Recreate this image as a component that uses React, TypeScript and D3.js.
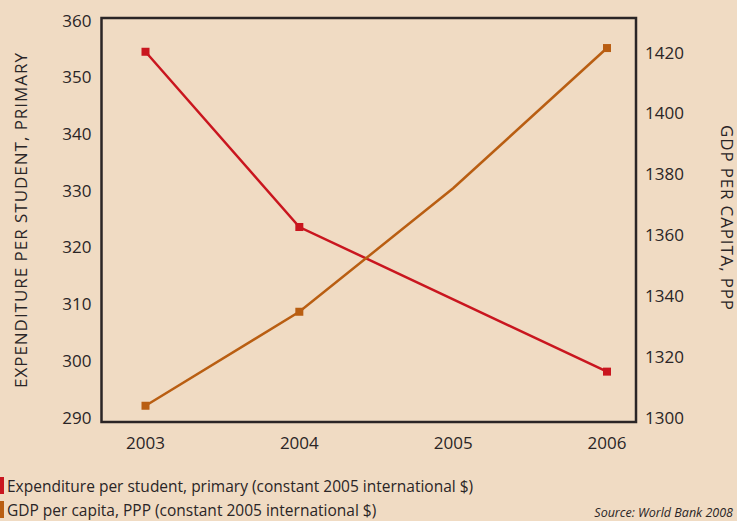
import React from "react";
import * as d3 from "d3";

const years = ["2003", "2004", "2005", "2006"];
const expenditure: (number | null)[] = [354.4, 323.5, null, 298.0];
const gdp: (number | null)[] = [1303.7, 1334.6, 1375.2, 1421.3];
const markerYears = ["2003", "2004", "2006"];
const leftTicks = [290, 300, 310, 320, 330, 340, 350, 360];
const rightTicks = [1300, 1320, 1340, 1360, 1380, 1400, 1420];
const legendLabels = [
  "Expenditure per student, primary (constant 2005 international $)",
  "GDP per capita, PPP (constant 2005 international $)",
];
const leftTitle = "EXPENDITURE PER STUDENT, PRIMARY";
const rightTitle = "GDP PER CAPITA, PPP";
const sourceText = "Source: World Bank 2008";

const W = 737;
const H = 521;
const BG = "#f0dbc3";
const RED = "#c9161f";
const ORANGE = "#b95e12";
const INK = "#2a2526";
const FONT = "'Open Sans', 'DejaVu Sans', sans-serif";

export default function App() {
  const box = { left: 101.5, right: 636, top: 18, bottom: 422 };
  const x = d3.scalePoint<string>().domain(years).range([145.5, 607]);
  const yL = d3.scaleLinear().domain([290, 360]).range([417, 20]);
  const yR = d3.scaleLinear().domain([1300, 1420]).range([417, 52]);

  const mk = (vals: (number | null)[], y: d3.ScaleLinear<number, number>) => {
    const pts = years
      .map((yr, i) => ({ yr, v: vals[i] }))
      .filter((d) => d.v !== null) as { yr: string; v: number }[];
    const line = d3
      .line<{ yr: string; v: number }>()
      .x((d) => x(d.yr)!)
      .y((d) => y(d.v));
    return { path: line(pts)!, pts };
  };
  const red = mk(expenditure, yL);
  const org = mk(gdp, yR);
  const ms = 8;

  return (
    <svg
      width={W}
      height={H}
      style={{ position: "absolute", left: 0, top: 0, background: BG }}
      fontFamily={FONT}
    >
      <rect x={0} y={0} width={W} height={H} fill={BG} />
      <rect
        x={box.left}
        y={box.top}
        width={box.right - box.left}
        height={box.bottom - box.top}
        fill="none"
        stroke={INK}
        strokeWidth={2.5}
      />
      {leftTicks.map((t) => (
        <text key={t} x={91.5} y={yL(t)} textAnchor="end" dominantBaseline="central" fontSize={17} fill={INK}>
          {t}
        </text>
      ))}
      {rightTicks.map((t) => (
        <text key={t} x={645} y={yR(t)} textAnchor="start" dominantBaseline="central" fontSize={17} fill={INK}>
          {t}
        </text>
      ))}
      {years.map((yr) => (
        <text key={yr} x={x(yr)!} y={442} textAnchor="middle" dominantBaseline="central" fontSize={17} fill={INK}>
          {yr}
        </text>
      ))}
      <text
        transform={`translate(20,220.5) rotate(-90)`}
        textAnchor="middle"
        dominantBaseline="central"
        fontSize={17}
        textLength={335}
        lengthAdjust="spacing"
        fill={INK}
      >
        {leftTitle}
      </text>
      <text
        transform={`translate(727,217.5) rotate(90)`}
        textAnchor="middle"
        dominantBaseline="central"
        fontSize={17}
        textLength={185}
        lengthAdjust="spacing"
        fill={INK}
      >
        {rightTitle}
      </text>
      <path d={red.path} fill="none" stroke={RED} strokeWidth={2.5} />
      <path d={org.path} fill="none" stroke={ORANGE} strokeWidth={2.5} />
      {red.pts
        .filter((d) => markerYears.includes(d.yr))
        .map((d) => (
          <rect key={"r" + d.yr} x={x(d.yr)! - ms / 2} y={yL(d.v) - ms / 2} width={ms} height={ms} fill={RED} />
        ))}
      {org.pts
        .filter((d) => markerYears.includes(d.yr))
        .map((d) => (
          <rect key={"o" + d.yr} x={x(d.yr)! - ms / 2} y={yR(d.v) - ms / 2} width={ms} height={ms} fill={ORANGE} />
        ))}
      {legendLabels.map((l, i) => (
        <g key={l}>
          <rect x={0} y={477 + i * 24} width={4} height={17} fill={i === 0 ? RED : ORANGE} />
          <text x={7} y={486 + i * 24} dominantBaseline="central" fontSize={15.5} fill={INK}>
            {l}
          </text>
        </g>
      ))}
      <text x={733} y={512} textAnchor="end" dominantBaseline="central" fontSize={12.5} fontStyle="italic" fill={INK}>
        {sourceText}
      </text>
    </svg>
  );
}
